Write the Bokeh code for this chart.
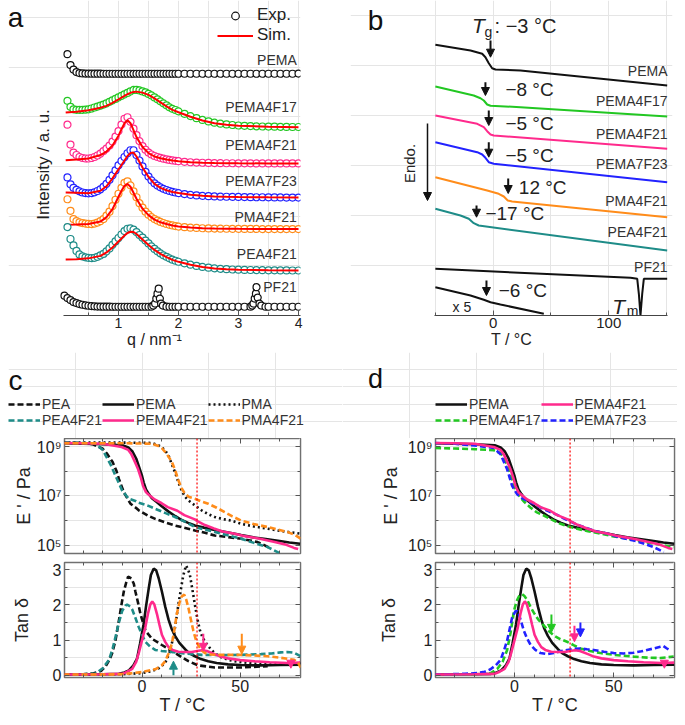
from bokeh.plotting import figure
from bokeh.models import (LinearAxis, LogAxis, FixedTicker, Range1d, Legend, LegendItem,
                          Label, Arrow, NormalHead, Span, CustomJSTickFormatter)
from bokeh.layouts import row, column
from bokeh.embed import file_html
from bokeh.resources import INLINE

FONT = "Liberation Sans"
BLACK = "#111111"; GREEN = "#22c722"; PINK = "#ff2a8c"; BLUE = "#2222ff"
ORANGE = "#ff8c1a"; TEAL = "#1e8c88"; RED = "#ff0000"; TXT = "#333333"; FRAME = "#707070"
NAN = float("nan")

# ---------------- panel a : SAXS ----------------
Q_EXP = [0.15,0.2,0.25,0.3,0.35,0.4,0.45,0.5,0.55,0.6,0.65,0.7,0.75,0.8,0.85,0.9,
         0.95,1.0,1.05,1.1,1.15,1.2,1.25,1.3,1.35,1.4,1.45,1.5,1.55,1.6,1.65,1.7,
         1.75,1.8,1.85,1.9,1.95,2.0,2.1,2.2,2.3,2.4,2.5,2.6,2.7,2.8,2.9,3.0,
         3.1,3.2,3.3,3.4,3.5,3.6,3.7,3.8,3.9,4.0]
PEMA_I = [263,252,247.5,245,244,243.6,243.5,243.5,
          243.4,243.4,243.4,243.4,243.3,243.3,243.3,243.3,
          243.3,243.3,243.3,243.3,243.3,243.3,243.3,243.3,
          243.3,243.3,243.3,243.3,243.3,243.3,243.3,243.3,
          243.3,243.3,243.3,243.3,243.3,243.3,
          243.3,243.3,243.3,243.3,243.3,243.3,243.3,243.3,243.3,243.3,
          243.3,243.3,243.3,243.3,243.3,243.3,243.3,243.3,243.3,243.5]
F17_I = [216,210,207.5,207,207,207,207.2,207.5,
         208.3,209.3,210.3,211.3,212.3,213.5,215,216.5,
         218,219.5,221,222.5,224,225.5,227,227,
         226.5,225.5,224.5,223,221.5,219.5,217.5,215.5,
         213.5,211.5,209.5,208,206.8,205.5,
         203,200.7,198.6,196.8,195.3,194,193,192.3,191.7,191.2,
         190.9,190.6,190.4,190.2,190.1,190,189.9,189.8,189.7,189.7]
F21_I = [192,172,164,161.5,159.5,158.5,158,158,
         158.5,159.5,161,163,165.5,168,171,175,
         180,185.5,192,198,199.5,195,188,181.5,
         175.5,170.5,166.8,164,162,160.5,159.5,158.6,
         157.8,157.2,156.6,156.1,155.7,155.3,
         154.7,154.2,153.9,153.7,153.5,153.4,153.3,153.2,153.2,153.1,
         153.1,153.1,153,153,153,153,153,153,153,153]
F23_I = [139,132,128.5,126.5,125,123.8,123.2,123,
         123.2,124,125.3,127,129.5,132.5,136.5,141,
         146,151,155.5,159.5,163.3,166.3,166.3,161.5,
         156,150,144.5,139.8,136,133,130.8,129,
         127.5,126.3,125.3,124.5,123.8,123.2,
         122.2,121.4,120.8,120.4,120.1,119.8,119.6,119.5,119.4,119.3,
         119.2,119.1,119,119,118.9,118.8,118.8,118.7,118.7,118.7]
PMA21_I = [117,105.3,97,95,93.8,93,92.5,92.2,
           92,92.5,93.5,95,97,100.5,104.5,110,
           116.5,122.5,128.5,133.5,135,131,125,119,
           113,108.5,104.5,101.5,99,97,95.5,94.2,
           93.1,92.1,91.3,90.6,90,89.5,
           88.9,88.4,88.1,87.8,87.6,87.5,87.4,87.3,87.2,87.2,
           87.1,87.1,87.1,87,87,87,87,87,87,87]
PEA21_I = [89,77,70.5,65,61.5,59.5,58.5,58,
           57.8,58,59,60.5,62,64.5,67.5,71,
           74.5,78,81.5,85,87.3,87.7,86.5,84,
           81,78.3,75.4,72.5,69.6,67,64.6,62.5,
           60.6,59,57.5,56.2,55.1,54.1,
           52.5,51.1,49.9,48.9,48.1,47.5,47,46.6,46.3,46.1,
           45.9,45.8,45.7,45.6,45.5,45.5,45.4,45.4,45.3,45.3]
Q_PF = [0.1,0.15,0.2,0.25,0.3,0.35,0.4,0.45,0.5,0.55,0.6,0.65,0.7,0.75,0.8,0.85,0.9,0.95,
        1.0,1.05,1.1,1.15,1.2,1.25,1.3,1.35,1.4,1.45,1.5,1.55,
        1.58,1.61,1.63,1.65,1.67,1.69,1.71,1.74,
        1.8,1.85,1.9,1.95,2.0,
        2.1,2.2,2.3,2.4,2.5,2.6,2.7,2.8,2.9,3.0,3.1,3.2,
        3.23,3.25,3.27,3.29,3.3,3.32,3.35,3.38,
        3.45,3.5,3.6,3.7,3.8,3.9,4.0]
PF_I = [20,17.5,15.5,13.5,12.5,11.5,10.8,10.2,9.8,9.5,9.2,9,9,8.9,8.9,8.9,8.8,8.8,
        8.8,8.8,8.8,8.8,8.8,8.8,8.8,8.8,8.8,8.8,8.8,8.9,
        10,12,17,22,27,17,12,10,
        8.9,8.8,8.8,8.8,8.8,
        8.8,8.8,8.8,8.8,8.8,8.8,8.8,8.8,8.8,8.8,8.8,8.9,
        10,12,17,22,28.5,18,12,10,
        8.8,8.8,8.8,8.8,8.8,8.8,8.8]
Q_SIM = [0.12,0.3,0.5,0.7,0.8,0.9,1.0,1.05,1.1,1.15,1.2,1.25,1.3,1.4,1.5,
         1.6,1.7,1.8,1.9,2.0,2.2,2.4,2.6,2.8,3.0,3.5,4.0]
S17 = [204.3,205,206.5,209,211,214,217.5,219.3,221,222.7,224,225,225.3,224.3,222,
       218.5,214.5,210.5,207,204.5,200,196.2,193.5,192,191,190,189.5]
S21 = [156.3,157,158,161.5,165,171,181,187.5,193.5,196.5,193.5,186.5,179.5,169.5,163.5,
       160,158.3,157,156,155.2,154.3,153.8,153.5,153.3,153.2,153,153]
S23 = [123.7,123.5,123,125.5,130,138,147,151.5,156,160.5,163.5,164,160,149,139.5,
       132.5,128.5,126,124.3,123.2,121.5,120.4,119.8,119.5,119.3,118.9,118.7]
S_PMA21 = [91.3,91.5,92,94.5,99,107,119.5,125.5,130.5,132.5,129.5,123.5,117.5,107.5,101,
           96.5,93.8,92,90.6,89.6,88.5,87.9,87.5,87.3,87.2,87,87]
S_PEA21 = [56.3,56.5,57.5,60,63.5,68.5,74.5,77.5,80.5,83,84.3,84,82,76.5,71,
           66,62,58.7,56,54,51,48.8,47.4,46.6,46.1,45.5,45.3]
A_NAMES = ["PEMA", "PEMA4F17", "PEMA4F21", "PEMA7F23", "PMA4F21", "PEA4F21", "PF21"]
A_NAME_Y = [257, 209.7, 171.3, 135.3, 98.7, 62, 28.7]

# ---------------- panel b : DSC ----------------
B_NAMES = ["PEMA", "PEMA4F17", "PEMA4F21", "PEMA7F23", "PMA4F21", "PEA4F21", "PF21"]
B_T = [[-50,-19.6,-9.5,-6.7,-3.8,-0.9,2,23.6,150.5],
       [-50,-16.8,-11,-8.1,-5.2,-2.3,23.6,150.5],
       [-50,-13.8,-8.1,-5.2,-2.3,0.5,150.5],
       [-50,-13.8,-9.5,-6.7,-3.8,0.5,150.5],
       [-50,-5.2,4.8,9.2,12.6,16.4,150.5],
       [-50,-28.3,-21.1,-16.8,-12.5,150.5],
       [-50,118.8,124.6,126,127.4,128.9,130.3,150.5]]
B_Y = [[270.7,265,261.7,258.3,252.3,247.3,246,245,230],
       [229,220,217.3,215,211,209.7,208.3,199],
       [200,191.7,188.3,184.3,181,180,166.7],
       [173.3,163.3,161,157.7,153.3,151.7,133.3],
       [138.3,125,121.7,119,115,114,98.3],
       [106.7,100,96.7,92.3,90,65],
       [46.7,37.7,36.7,21.7,0,21.7,36.7,36.7]]
X5_T = [-50,-19.6,-8.1,-2.3,6.3,43.8]
X5_Y = [28.3,20,15.7,13.3,11,1.7]
B_NAME_Y = [245, 215, 181.7, 151.7, 115, 83.3, 49]
TG_X = [-2.3, -6.7, -3.8, -3.8, 13, -14.4, -5.8]
TG_Y0 = [275, 233.3, 205, 173.3, 137, 110, 35]
TG_Y1 = [258.3, 220, 190, 158.3, 122, 98.3, 20]
TG_TEXT = ["−8 °C", "−5 °C", "−5 °C", "12 °C", "−17 °C", "−6 °C"]
TG_TX = [10.6, 10.6, 10.6, 22.2, -6.7, 4.8]
TG_TY = [225.7, 192, 160, 128.3, 102, 25]

# ---------------- panels c, d : DMA ----------------
T_PEA = [-40,-30,-25,-20,-18,-15,-13,-11.8,-9.3,-7.5,-5.9,-3,-1.7,3,6.7,12,16.8,22,26.9,32,37,45,50.5,55,58.9,62,65.7]
E_PEA = [1.41e9,1.32e9,1.2e9,7.9e8,5.2e8,2.3e8,1.0e8,4.8e7,1.4e7,7.9e6,4.8e6,3.2e6,2.6e6,1.6e6,1.17e6,
         8.3e5,6.3e5,5.0e5,4.0e5,3.2e5,2.5e5,2.1e5,1.86e5,1.58e5,1.35e5,1.05e5,7.4e4]
T_PEA21 = [-40,-30,-23.6,-20,-18.5,-16,-14.3,-12,-10.1,-8,-6.7,-3,-1.7,3,6.7,12,16.8,22,26.9,32,37,45,50.5,57,64,70.7]
E_PEA21 = [1.41e9,1.35e9,1.26e9,7.1e8,4.2e8,1.8e8,8.9e7,3.5e7,1.6e7,1.0e7,7.6e6,6.0e6,5.2e6,4.0e6,3.0e6,
           2.0e6,1.4e6,8.9e5,5.5e5,4.3e5,3.5e5,2.4e5,1.86e5,1.26e5,8.5e4,4.6e4]
T_PEMA = [-40,-30,-20,-10,-7,-5,-3,-1.7,0,0.8,2,3.4,5,7.6,10,13.5,17,20.2,23.2,26.9,31.5,37,43.3,50.5,56.7,63,70.1,75,80.5]
E_PEMA = [1.32e9,1.26e9,1.2e9,1.1e9,8.9e8,6.3e8,3.2e8,1.6e8,6.3e7,3.5e7,1.8e7,1.2e7,7.9e6,5.5e6,3.8e6,
          2.3e6,1.5e6,1.05e6,8.3e5,6.3e5,5.2e5,4.2e5,3.4e5,2.6e5,2.1e5,1.8e5,1.5e5,1.3e5,1.17e5]
T_PEMA21 = [-40,-30,-20,-10.4,-7,-5.4,-3.5,-2,-0.5,0.5,2,3,6.4,10,13.1,18,21.5,26.9,28.2,32,36.6,41,46.6,53,60,67,73.5,77.4,79.5]
E_PEMA21 = [1.35e9,1.32e9,1.26e9,9.3e8,7.1e8,4.7e8,2.2e8,1.17e8,5.0e7,2.5e7,1.4e7,1.17e7,7.1e6,5.0e6,3.5e6,
            2.5e6,1.66e6,1.12e6,9.5e5,6.6e5,4.8e5,3.6e5,3.0e5,2.3e5,1.86e5,1.41e5,1.05e5,7.9e4,7.1e4]
T_PMA = [-40,-20,0,5,8,10.1,12,13.5,15,16.8,18.5,20.2,22,23.6,26.9,30.3,33.7,37,41,45.5,50.5,57,64,69,74,80.8]
E_PMA = [1.41e9,1.41e9,1.38e9,1.35e9,1.12e9,9.1e8,6.3e8,4.2e8,2.0e8,8.9e7,3.5e7,1.6e7,8.9e6,6.5e6,4.1e6,
         2.6e6,1.8e6,1.4e6,1.15e6,1.0e6,7.4e5,5.8e5,4.7e5,4.0e5,3.5e5,2.95e5]
T_PMA21 = [-40,-20,-8.4,5,8,10.1,12.5,15.2,17,18.5,20.2,21.9,24,26.9,30,33.7,38,42.1,46,50.5,57,64,69,74,78,80.8]
E_PMA21 = [1.32e9,1.32e9,1.32e9,1.26e9,1.05e9,8.3e8,5.0e8,2.3e8,1.0e8,4.2e7,2.0e7,1.2e7,8.9e6,7.6e6,6.0e6,
           4.8e6,3.3e6,2.2e6,1.48e6,1.0e6,7.2e5,5.5e5,4.4e5,3.5e5,2.6e5,1.86e5]
T_F17 = [-40,-30,-20,-10.4,-7,-5.4,-3.5,-2,-0.7,0.5,3,5,8,11,14.8,19,23.2,27,31.5,37,43.3,50,56.7,63,70.1,75,80.2]
E_F17 = [8.5e8,8.1e8,7.6e8,6.9e8,5.2e8,3.4e8,1.6e8,7.4e7,3.2e7,1.6e7,8.5e6,5.6e6,3.4e6,2.2e6,1.6e6,
         1.07e6,7.4e5,5.9e5,4.7e5,3.7e5,3.0e5,2.3e5,1.86e5,1.48e5,1.17e5,1.0e5,8.5e4]
T_F23 = [-40,-30,-20,-10.4,-7,-5.5,-3.7,-2.5,-1.2,1.3,4,6.4,10,13.1,17,21.5,25,28.2,32,36.6,41,46.6,53,60,65,70.1,75.2]
E_F23 = [1.35e9,1.26e9,1.07e9,8.5e8,4.7e8,2.5e8,1.17e8,5.6e7,2.5e7,1.17e7,7.9e6,6.3e6,4.6e6,3.4e6,2.4e6,
         1.7e6,1.2e6,9.1e5,6.6e5,4.9e5,3.7e5,3.0e5,2.1e5,1.58e5,1.2e5,8.5e4,5.4e4]

TT_PEA = [-40,-30,-25,-21,-18.5,-16.5,-15.2,-13.5,-11.8,-10.5,-9.3,-8,-7.1,-5.4,-4.2,-3.4,-2,-0.8,1.7,5,10.1,16.8,23.6,28.6,37,50.5,64]
D_PEA = [0.02,0.03,0.05,0.12,0.26,0.45,0.63,1.0,1.55,2.0,2.38,2.65,2.8,2.75,2.6,2.38,2.05,1.74,1.27,1.04,0.86,0.63,0.4,0.28,0.22,0.22,0.26]
TT_PEA21 = [-40,-30,-23.6,-20,-16.8,-15,-13.5,-11.8,-10.1,-8.5,-7.6,-6,-5,-3.5,-1.7,0,1.7,4,6.7,10,13.5,20.2,30.3,40.4,50.5,60.6,66,70.7,74,77.4,80.8]
D_PEA21 = [0.02,0.03,0.05,0.2,0.44,0.75,1.09,1.5,1.83,1.98,2.01,1.95,1.87,1.65,1.37,1.15,0.95,0.82,0.72,0.69,0.67,0.63,0.58,0.57,0.58,0.6,0.62,0.65,0.66,0.64,0.54]
TT_PEMA = [-40,-20,-11.8,-9,-6.7,-4.5,-2.5,-1,0.8,2,3.4,4.5,5.9,7.2,8.5,10.1,11.8,13.5,15,16.8,19,21.9,24,26.9,30,33.7,38,43.8,50,60,70,80.5]
D_PEMA = [0.02,0.03,0.04,0.08,0.14,0.27,0.48,0.9,1.45,1.95,2.47,2.85,3.03,2.98,2.75,2.38,1.95,1.58,1.33,1.12,0.92,0.74,0.63,0.54,0.46,0.4,0.35,0.31,0.29,0.28,0.29,0.3]
TT_PEMA21 = [-40,-20,-10,-7.5,-5,-3,-1.7,0,1.7,3,4.2,5.2,6.2,7.6,8.8,10.1,11.8,13.5,15.5,18.5,22,25.3,28,30.5,33,37,40,43.8,50,57.2,65,74,80.5]
D_PEMA21 = [0.02,0.03,0.04,0.1,0.18,0.38,0.63,1.0,1.37,1.75,2.01,2.1,2.02,1.74,1.45,1.15,0.95,0.8,0.72,0.67,0.66,0.66,0.69,0.71,0.69,0.6,0.53,0.48,0.43,0.4,0.37,0.35,0.36]
TT_PMA = [-40,-10,0,5,8.5,11.8,14,16,17.3,18.5,19.8,21,22.4,23.5,24.4,25.6,26.9,28.2,29.5,31,32.8,35,37,40,43.8,48,53.9,60,67.3,74,80.8]
D_PMA = [0.02,0.03,0.06,0.12,0.2,0.35,0.65,1.09,1.55,2.01,2.45,2.84,3.12,3.0,2.84,2.45,2.01,1.6,1.27,1.05,0.9,0.74,0.63,0.52,0.44,0.39,0.35,0.32,0.3,0.31,0.35]
TT_PMA21 = [-40,-20,-10,0,6.7,10,11.8,13.5,15.2,16.5,17.7,19,20.2,21.5,22.5,23.6,24.8,26.1,27.3,28.6,30,32,35,38.7,45,50.5,57,64,70,74,77.4,79.5,80.8]
D_PMA21 = [0.02,0.02,0.03,0.09,0.17,0.28,0.4,0.62,0.9,1.3,1.74,2.05,2.24,2.29,2.15,1.92,1.6,1.27,1.03,0.86,0.73,0.63,0.59,0.58,0.58,0.58,0.56,0.54,0.5,0.47,0.44,0.35,0.22]
TT_F17 = [-40,-20,-12,-8.7,-6,-3.7,-2,-0.3,1,2.2,3.9,5,6.4,8,9.7,12,14.8,17,19.8,23,26.5,30,33.2,38,43.3,50,60,67,73.5,80.2]
D_F17 = [0.02,0.03,0.06,0.18,0.38,0.72,1.2,1.82,2.1,2.24,2.3,2.25,2.14,1.95,1.78,1.58,1.41,1.27,1.13,1.03,0.95,0.85,0.76,0.69,0.63,0.58,0.53,0.5,0.49,0.53]
TT_F23 = [-40,-25,-18.8,-15,-12.1,-9.5,-7,-5.3,-3.7,-2.5,-1.2,0.5,1.5,2.2,3.5,4.7,6.3,8.1,10.5,13.1,16.5,19.8,23,26.5,30,33.2,36.5,39.9,45,50,55,60,64,66.8,70,73.5,75,76.8,78.5]
D_F23 = [0.02,0.04,0.06,0.1,0.17,0.28,0.44,0.7,0.99,1.3,1.64,1.82,1.82,1.73,1.5,1.27,1.05,0.86,0.72,0.63,0.6,0.63,0.68,0.72,0.75,0.76,0.74,0.72,0.67,0.63,0.62,0.64,0.68,0.72,0.76,0.81,0.83,0.76,0.7]
T_REF = 28
C_ARROWS = [(31.2, 1.18, 0.68, PINK), (50.8, 1.18, 0.6, ORANGE), (16, 0.0, 0.4, TEAL), (75.8, 0.36, 0.2, PINK)]
D_ARROWS = [(18.6, 1.73, 1.22, GREEN), (30.2, 1.41, 0.95, PINK), (33.2, 1.5, 1.09, BLUE), (75.5, 0.36, 0.2, PINK)]


# ---------------- helpers ----------------
def fig(w, h, xr, yr, ml, mr, mt, mb, ylog=False):
    p = figure(width=w, height=h, x_range=Range1d(*xr), y_range=Range1d(*yr),
               x_axis_location=None, y_axis_location=None,
               y_axis_type="log" if ylog else "linear",
               output_backend="svg", toolbar_location=None,
               min_border_left=ml, min_border_right=mr, min_border_top=mt, min_border_bottom=mb)
    p.outline_line_color = None
    return p


def make_axis(ticks, minor, labels=True, label=None, log=False, tick_size="16px",
              label_size="18px", std=2, lstd=0, line=None, fmt=None):
    cls = LogAxis if log else LinearAxis
    ax = cls(ticker=FixedTicker(ticks=ticks, minor_ticks=minor))
    ax.axis_label = label
    ax.axis_line_color = line
    ax.axis_line_width = 1.2
    ax.major_tick_in = 5; ax.major_tick_out = 0
    ax.minor_tick_in = 3; ax.minor_tick_out = 0
    ax.major_tick_line_color = "#555555"; ax.minor_tick_line_color = "#555555"
    ax.major_label_text_font = FONT
    ax.major_label_text_color = "#222222"
    ax.major_label_standoff = std
    ax.axis_label_text_font = FONT
    ax.axis_label_text_font_style = "normal"
    ax.axis_label_text_font_size = label_size
    ax.axis_label_text_color = "#222222"
    ax.axis_label_standoff = lstd
    if labels:
        ax.major_label_text_font_size = tick_size
        if fmt is not None:
            ax.formatter = fmt
    else:
        ax.formatter = CustomJSTickFormatter(code="return '';")
        ax.major_label_text_font_size = "1px"
        ax.major_label_standoff = 0
    return ax


def lab(p, x, y, text, size="14px", align="left", base="middle", color=TXT,
        style="normal", units="data", angle=0):
    p.add_layout(Label(x=x, y=y, text=text, x_units=units, y_units=units,
                       text_font=FONT, text_font_size=size, text_align=align,
                       text_baseline=base, text_color=color, text_font_style=style,
                       angle=angle, angle_units="deg"))


def arrow(p, x, y0, y1, color, lw=2, size=8):
    p.add_layout(Arrow(end=NormalHead(size=size, fill_color=color, line_color=color, line_width=1),
                       x_start=x, y_start=y0, x_end=x, y_end=y1,
                       line_color=color, line_width=lw))


SUP = CustomJSTickFormatter(code="""
const s = {"4":"\u2074","5":"\u2075","6":"\u2076","7":"\u2077","8":"\u2078","9":"\u2079"};
const e = String(Math.round(Math.log10(tick)));
return "10" + (s[e] || e);
""")

# ---------------- panel a ----------------
pa = fig(334, 352, (-0.833, 4.033), (0, 317), 0, 42, 0, 35)
xa = make_axis([1, 2, 3, 4], [0.5, 1.5, 2.5, 3.5], label="q / nm⁻¹",
               tick_size="14px", label_size="16px", std=2, lstd=0, line="#444444")
xa.bounds = (0.083, 4.033)
pa.add_layout(xa, "below")

exp_sets = [(PEMA_I, BLACK, None), (F17_I, GREEN, S17), (F21_I, PINK, S21),
            (F23_I, BLUE, S23), (PMA21_I, ORANGE, S_PMA21), (PEA21_I, TEAL, S_PEA21)]
r_exp0 = None; r_sim0 = None
for ivals, col, sim in exp_sets:
    r = pa.scatter(Q_EXP, ivals, marker="circle", size=7, fill_color="white",
                   line_color=col, line_width=1.2)
    if r_exp0 is None:
        r_exp0 = r
    if sim is not None:
        rs = pa.line(Q_SIM, sim, line_color=RED, line_width=2)
        if r_sim0 is None:
            r_sim0 = rs
pa.scatter(Q_PF, PF_I, marker="circle", size=7, fill_color="white", line_color=BLACK, line_width=1.2)
for name, yy in zip(A_NAMES, A_NAME_Y):
    lab(pa, 3.97, yy, name, size="14px", align="right")
leg_a = Legend(items=[LegendItem(label="Exp.", renderers=[r_exp0]),
                      LegendItem(label="Sim.", renderers=[r_sim0])],
               location=(209, 270), glyph_width=36, glyph_height=19, label_height=19,
               label_standoff=4, spacing=0, padding=0, margin=0,
               label_text_font=FONT, label_text_font_size="17px", label_text_color="#222222",
               border_line_color=None, background_fill_alpha=0)
pa.add_layout(leg_a)
lab(pa, -0.25, 152, "Intensity / a. u.", size="17px", align="center", angle=90, color="#222222")
lab(pa, -0.717, 300, "a", size="28px", align="center", color="#111111")

# ---------------- panel b ----------------
pb = fig(335, 352, (-123.4, 155.1), (0, 315), 8, 5, 0, 37)
xb = make_axis([0, 100], [-50, 50, 150], label="T / °C", tick_size="15px",
               label_size="16px", std=2, lstd=0, line="#444444")
xb.bounds = (-51, 150.5)
pb.add_layout(xb, "below")
b_cols = [BLACK, GREEN, PINK, BLUE, ORANGE, TEAL, BLACK]
for tt, yy, col in zip(B_T, B_Y, b_cols):
    pb.line(tt, yy, line_color=col, line_width=2)
pb.line(X5_T, X5_Y, line_color=BLACK, line_width=2)
for name, yy in zip(B_NAMES, B_NAME_Y):
    lab(pb, 150.8, yy, name, size="14px", align="right")
for x, y0, y1 in zip(TG_X, TG_Y0, TG_Y1):
    arrow(pb, x, y0, y1, BLACK, lw=2, size=8)
for t, x, y in zip(TG_TEXT, TG_TX, TG_TY):
    lab(pb, x, y, t, size="19px", color="#222222")
lab(pb, -18.3, 290, "T", size="21px", base="alphabetic", style="italic", color="#222222")
lab(pb, -7.5, 284, "g", size="14px", base="alphabetic", color="#222222")
lab(pb, 1.2, 290, ": −3 °C", size="20px", base="alphabetic", color="#222222")
lab(pb, 102.9, 9, "T", size="21px", base="alphabetic", style="italic", color="#222222")
lab(pb, 115.5, 5, "m", size="14px", base="alphabetic", color="#222222")
lab(pb, -35.1, 9, "x 5", size="14px", color="#222222")
arrow(pb, -56.8, 192, 115, BLACK, lw=1.5, size=8)
lab(pb, -72.5, 152, "Endo.", size="15px", align="center", angle=90, color="#222222")
lab(pb, -101.8, 295, "b", size="28px", align="center", color="#111111")


# ---------------- panels c, d ----------------
XT = [0, 50]
XM = [-30, -20, -10, 10, 20, 30, 40, 60, 70]


def header(width):
    h = figure(width=width, height=86, x_range=Range1d(0, 1), y_range=Range1d(0, 1),
               x_axis_location=None, y_axis_location=None, output_backend="svg",
               toolbar_location=None, min_border_left=0, min_border_right=0,
               min_border_top=0, min_border_bottom=0)
    h.outline_line_color = None
    return h


def dma_pair(width, ml, mr, xr, lstd_e, lstd_t):
    top = fig(width, 119, xr, (4.7e4, 2.05e9), ml, mr, 0, 4, ylog=True)
    bot = fig(width, 160, xr, (-0.064, 3.205), ml, mr, 5, 40)
    for p in (top, bot):
        p.outline_line_color = FRAME
        p.outline_line_width = 1.5
        p.add_layout(Span(location=T_REF, dimension="height", line_color=RED,
                          line_dash="2 2", line_width=1.2))
    top.add_layout(make_axis([1e5, 1e7, 1e9], [1e6, 1e8], log=True, label="E ' / Pa",
                             tick_size="16px", label_size="18px", std=3, lstd=lstd_e, fmt=SUP), "left")
    top.add_layout(make_axis([1e5, 1e7, 1e9], [1e6, 1e8], log=True, labels=False), "right")
    top.add_layout(make_axis(XT, XM, labels=False), "above")
    top.add_layout(make_axis(XT, XM, labels=False), "below")
    bot.add_layout(make_axis([0, 1, 2, 3], [0.5, 1.5, 2.5], label="Tan δ",
                             tick_size="16px", label_size="18px", std=3, lstd=lstd_t), "left")
    bot.add_layout(make_axis([0, 1, 2, 3], [0.5, 1.5, 2.5], labels=False), "right")
    bot.add_layout(make_axis(XT, XM, labels=False), "above")
    bot.add_layout(make_axis(XT, XM, label="T / °C", tick_size="16px", label_size="18px",
                             std=2, lstd=0), "below")
    return top, bot


def legend(items, loc, ncols):
    return Legend(items=items, location=loc, orientation="horizontal", ncols=ncols,
                  glyph_width=32, glyph_height=14, label_height=14, label_standoff=2,
                  spacing=0, padding=0, margin=0, label_text_font=FONT,
                  label_text_font_size="14px", label_text_color="#333333",
                  border_line_color=None, background_fill_alpha=0)


hc = header(334)
pc1, pc2 = dma_pair(334, 54, 42, (-39.5, 80.7), 0, 18)
c_series = [("PEA", T_PEA, E_PEA, TT_PEA, D_PEA, BLACK, "6 3"),
            ("PEMA", T_PEMA, E_PEMA, TT_PEMA, D_PEMA, BLACK, "solid"),
            ("PMA", T_PMA, E_PMA, TT_PMA, D_PMA, BLACK, "2 3"),
            ("PEA4F21", T_PEA21, E_PEA21, TT_PEA21, D_PEA21, TEAL, "6 3"),
            ("PEMA4F21", T_PEMA21, E_PEMA21, TT_PEMA21, D_PEMA21, PINK, "solid"),
            ("PMA4F21", T_PMA21, E_PMA21, TT_PMA21, D_PMA21, ORANGE, "6 3")]
c_items = []
for name, te, e, td, d, col, dash in c_series:
    pc1.line(te, e, line_color=col, line_width=2.6, line_dash=dash)
    pc2.line(td, d, line_color=col, line_width=2.6, line_dash=dash)
    rl = hc.line([NAN], [NAN], line_color=col, line_width=2.6, line_dash=dash)
    c_items.append(LegendItem(label=name, renderers=[rl]))
hc.add_layout(legend(c_items, (0, 10), 3))
lab(hc, 7, 58, "c", size="28px", align="center", base="alphabetic", color="#111111", units="screen")
for x, y0, y1, col in C_ARROWS:
    arrow(pc2, x, y0, y1, col, lw=2, size=8)

hd = header(335)
pd1, pd2 = dma_pair(335, 93, 3, (-39.8, 80.6), 4, 22)
d_series = [("PEMA", T_PEMA, E_PEMA, TT_PEMA, D_PEMA, BLACK, "solid"),
            ("PEMA4F17", T_F17, E_F17, TT_F17, D_F17, GREEN, "6 3"),
            ("PEMA7F23", T_F23, E_F23, TT_F23, D_F23, BLUE, "6 3"),
            ("PEMA4F21", T_PEMA21, E_PEMA21, TT_PEMA21, D_PEMA21, PINK, "solid")]
d_r = {}
for name, te, e, td, d, col, dash in d_series:
    pd1.line(te, e, line_color=col, line_width=2.6, line_dash=dash)
    pd2.line(td, d, line_color=col, line_width=2.6, line_dash=dash)
    d_r[name] = hd.line([NAN], [NAN], line_color=col, line_width=2.6, line_dash=dash)
d_items = [LegendItem(label=n, renderers=[d_r[n]]) for n in ["PEMA", "PEMA4F21", "PEMA4F17", "PEMA7F23"]]
hd.add_layout(legend(d_items, (93, 10), 2))
lab(hd, 33, 60, "d", size="27px", align="center", base="alphabetic", color="#111111", units="screen")
for x, y0, y1, col in D_ARROWS:
    arrow(pd2, x, y0, y1, col, lw=2, size=8)

layout = column(row(pa, pb), row(hc, hd),
                row(column(pc1, pc2), column(pd1, pd2)),
                margin=(0, 0, 0, 8))
open("out.html", "w").write(file_html(layout, INLINE, "figure"))
